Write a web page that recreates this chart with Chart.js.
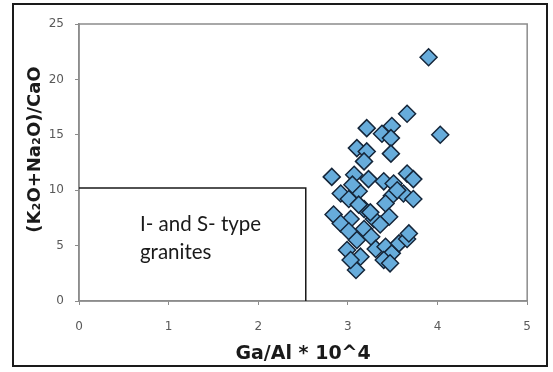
<!DOCTYPE html>
<html lang="en">
<head>
  <meta charset="UTF-8">
  <title>Ga/Al vs (K2O+Na2O)/CaO</title>
  <script src="https://cdn.jsdelivr.net/npm/chart.js"></script>
  <style>
    body { margin: 0; background: #fff; }
    #frame {
      position: absolute; left: 12px; top: 3px;
      width: 536px; height: 364px;
      border: 2px solid #1a1a1a; box-sizing: border-box;
    }
  </style>
</head>
<body>
  <div id="frame"><canvas id="chart"></canvas></div>

  <script>
    // sample values
    const gaAl = [3.90, 4.03, 3.66, 3.21, 3.49, 3.38, 3.48, 3.10, 3.21, 3.48,
                  3.18, 2.82, 3.07, 3.23, 3.40, 3.51, 3.66, 3.73, 2.92, 3.12,
                  3.01, 3.49, 3.62, 3.73, 3.42, 3.18, 2.84, 3.03, 3.29, 3.46,
                  2.92, 3.01, 3.18, 3.36, 3.26, 3.10, 2.99, 3.14, 3.09, 3.31,
                  3.42, 3.49, 3.40, 3.57, 3.66, 3.68, 3.03, 3.47, 3.12, 3.25,
                  3.55, 3.05];
    const alkCa = [22.0, 15.0, 16.9, 15.6, 15.8, 15.1, 14.7, 13.8, 13.5, 13.3,
                   12.6, 11.2, 11.4, 11.0, 10.8, 10.6, 11.5, 11.0, 9.7, 9.9,
                   9.2, 9.5, 9.7, 9.2, 8.8, 8.3, 7.8, 7.4, 7.4, 7.6,
                   7.0, 6.3, 6.5, 6.9, 5.8, 5.5, 4.6, 4.0, 2.8, 4.7,
                   4.9, 4.3, 3.7, 5.2, 5.6, 6.1, 3.7, 3.4, 8.7, 8.0,
                   10.0, 10.5];

    // I- and S-type field boundary
    const fieldX = [0, 2.53, 2.53];
    const fieldY = [10.2, 10.2, 0];
    const fieldLabel = ['I- and S- type', 'granites'];
    const labelPos = { x: 0.68, y: 6.9 };
    const yTitle = '(K₂O+Na₂O)/CaO';

    const points = gaAl.map((x, i) => ({ x: x, y: alkCa[i] }));
    const field = fieldX.map((x, i) => ({ x: x, y: fieldY[i] }));

    const plotFrame = {
      id: 'plotFrame',
      beforeDatasetsDraw(chart) {
        const a = chart.chartArea, c = chart.ctx;
        c.save();
        c.strokeStyle = '#8c8c8c';
        c.lineWidth = 1.5;
        c.strokeRect(a.left, a.top, a.right - a.left, a.bottom - a.top);
        c.restore();
      },
      afterDatasetsDraw(chart) {
        const a = chart.chartArea, c = chart.ctx;
        const px = chart.scales.x.getPixelForValue(labelPos.x);
        const py = chart.scales.y.getPixelForValue(labelPos.y);
        c.save();
        c.fillStyle = '#1a1a1a';
        c.font = '20.5px Lato';
        c.textBaseline = 'middle';
        c.fillText(fieldLabel[0], px, py);
        c.fillText(fieldLabel[1], px, py + 28);
        // y axis title, sits a little above the middle like the original
        c.translate(a.left - 44, (a.top + a.bottom) / 2 - 13);
        c.rotate(-Math.PI / 2);
        c.textAlign = 'center';
        c.font = 'bold 18px "DejaVu Sans"';
        c.fillText(yTitle, 0, 0);
        c.restore();
      }
    };

    const tickFont = { family: 'DejaVu Sans', size: 12 };

    new Chart(document.getElementById('chart'), {
      type: 'scatter',
      data: {
        datasets: [
          {
            data: points,
            pointStyle: 'rectRot',
            pointRadius: 8.5,
            backgroundColor: '#67acdb',
            borderColor: '#15263a',
            borderWidth: 1.5
          },
          {
            type: 'line',
            data: field,
            borderColor: '#1a1a1a',
            borderWidth: 1.5,
            pointRadius: 0,
            fill: false
          }
        ]
      },
      options: {
        responsive: true,
        maintainAspectRatio: false,
        animation: false,
        layout: { padding: { top: 19, right: 15, left: 0, bottom: 0 } },
        plugins: { legend: { display: false }, tooltip: { enabled: false } },
        scales: {
          x: {
            type: 'linear', min: 0, max: 5,
            ticks: { stepSize: 1, color: '#595959', font: tickFont, padding: 15 },
            grid: { drawOnChartArea: false, color: '#8c8c8c', tickLength: 4 },
            border: { color: '#8c8c8c', width: 1.5 },
            title: {
              display: true, text: 'Ga/Al * 10^4', color: '#1a1a1a',
              font: { family: 'DejaVu Sans', size: 19, weight: 'bold' },
              padding: { top: 2, bottom: 0 }
            },
            afterFit(s) { s.height = 64; }
          },
          y: {
            min: 0, max: 25,
            ticks: { stepSize: 5, color: '#595959', font: tickFont, padding: 11 },
            grid: { drawOnChartArea: false, color: '#8c8c8c', tickLength: 4 },
            border: { color: '#8c8c8c', width: 1.5 },
            afterFit(s) { s.width = 65; }
          }
        }
      },
      plugins: [plotFrame]
    });
  </script>
</body>
</html>
